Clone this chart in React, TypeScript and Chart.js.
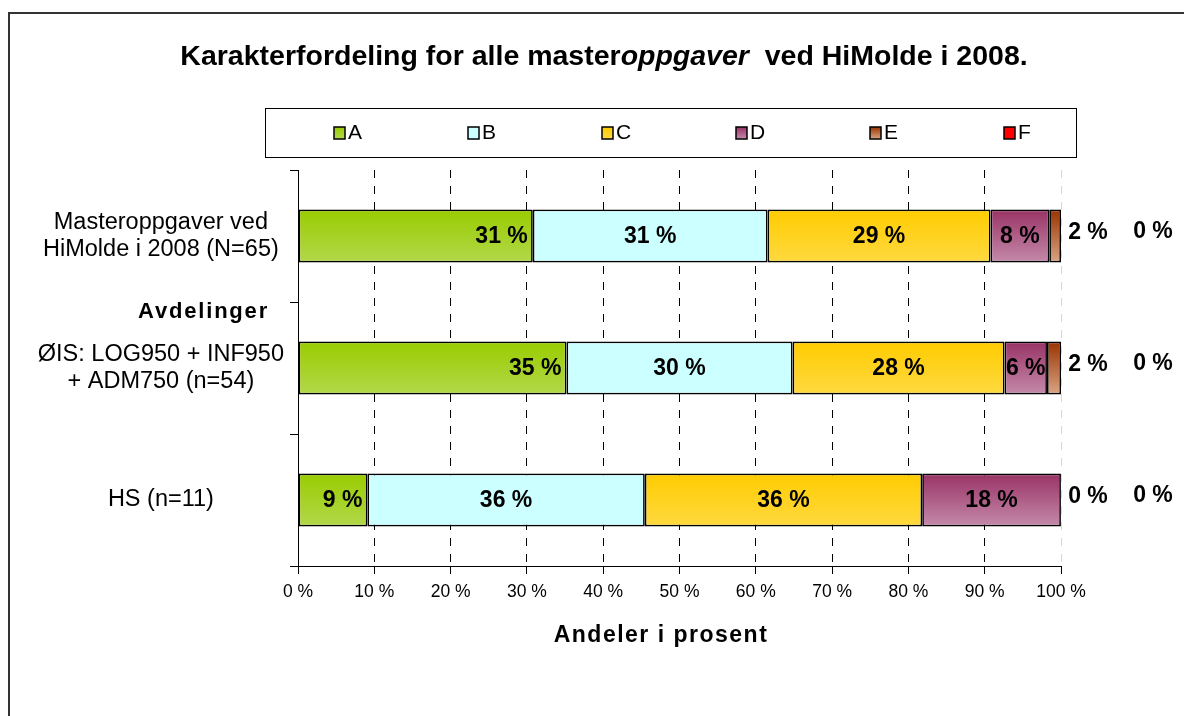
import { useEffect, useRef } from "react";
import { Chart, registerables } from "chart.js";
Chart.register(...registerables);

const categories: string[][] = [
  ["Masteroppgaver ved", "HiMolde i 2008 (N=65)"],
  ["ØIS: LOG950 + INF950", "+ ADM750 (n=54)"],
  ["HS (n=11)"],
];
const sectionLabel = "Avdelinger";
const grades = ["A", "B", "C", "D", "E", "F"];
const valuesA = [30.77, 35.19, 9.09];
const valuesB = [30.77, 29.63, 36.36];
const valuesC = [29.23, 27.78, 36.36];
const valuesD = [7.69, 5.56, 18.18];
const valuesE = [1.54, 1.85, 0];
const valuesF = [0, 0, 0];
const seriesValues = [valuesA, valuesB, valuesC, valuesD, valuesE, valuesF];
const xTickValues = [0, 10, 20, 30, 40, 50, 60, 70, 80, 90, 100];
const titleParts = [
  { text: "Karakterfordeling for alle master", italic: false },
  { text: "oppgaver", italic: true },
  { text: "  ved HiMolde i 2008.", italic: false },
];
const xAxisTitle = "Andeler i prosent";

const gradeColors: string[][] = [
  ["#99cc00", "#b2d84a"],
  ["#ccffff", "#ccffff"],
  ["#ffcc00", "#ffd940"],
  ["#993366", "#c48aaa"],
  ["#993300", "#d9a584"],
  ["#ff0000", "#ff0000"],
];

const FONT = '"Liberation Sans", Arial, sans-serif';

function makeGrad(ctx: CanvasRenderingContext2D, top: number, bottom: number, c: string[]) {
  const g = ctx.createLinearGradient(0, top, 0, bottom);
  g.addColorStop(0, c[0]);
  g.addColorStop(1, c[1]);
  return g;
}

const gradientPlugin = {
  id: "gradients",
  beforeDatasetsDraw(chart: any) {
    const ctx = chart.ctx;
    chart.data.datasets.forEach((_: any, i: number) => {
      const meta = chart.getDatasetMeta(i);
      meta.data.forEach((el: any) => {
        const p = el.getProps(["y", "height"], true);
        el.options.backgroundColor = makeGrad(ctx, p.y - p.height / 2, p.y + p.height / 2, gradeColors[i]);
      });
    });
  },
};

const labelsPlugin = {
  id: "valueLabels",
  afterDatasetsDraw(chart: any) {
    const ctx = chart.ctx;
    const x100 = chart.scales.x.getPixelForValue(100);
    ctx.save();
    ctx.font = `bold 23px ${FONT}`;
    ctx.fillStyle = "#000";
    ctx.textBaseline = "middle";
    chart.data.datasets.forEach((ds: any, i: number) => {
      const meta = chart.getDatasetMeta(i);
      meta.data.forEach((el: any, j: number) => {
        const v = ds.data[j];
        const txt = Math.round(v) + " %";
        const p = el.getProps(["x", "y", "base"], true);
        if (i === 0) {
          ctx.textAlign = "right";
          ctx.fillText(txt, p.x - 5, p.y + 1);
        } else if (i <= 3) {
          ctx.textAlign = "center";
          ctx.fillText(txt, (p.x + p.base) / 2, p.y + 1);
        } else if (i === 4) {
          ctx.textAlign = "center";
          ctx.fillText(txt, x100 + 27, p.y - 3);
        } else {
          ctx.textAlign = "center";
          ctx.fillText(txt, x100 + 92, p.y - 4);
        }
      });
    });
    ctx.restore();
  },
};

const decorPlugin = {
  id: "decor",
  afterDraw(chart: any) {
    const ctx = chart.ctx;
    ctx.save();
    // outer frame
    ctx.strokeStyle = "#333";
    ctx.lineWidth = 2;
    ctx.beginPath();
    ctx.moveTo(9, 716);
    ctx.lineTo(9, 13);
    ctx.lineTo(1184, 13);
    ctx.stroke();
    // solid x axis line (grid lines are dashed)
    const ca = chart.chartArea;
    ctx.strokeStyle = "#000";
    ctx.lineWidth = 1;
    ctx.beginPath();
    ctx.moveTo(ca.left, Math.round(ca.bottom) + 0.5);
    ctx.lineTo(ca.right, Math.round(ca.bottom) + 0.5);
    ctx.stroke();
    // title
    ctx.fillStyle = "#000";
    ctx.textBaseline = "alphabetic";
    ctx.textAlign = "left";
    let total = 0;
    const widths = titleParts.map((p) => {
      ctx.font = `${p.italic ? "italic " : ""}bold 28.5px ${FONT}`;
      const w = ctx.measureText(p.text).width;
      total += w;
      return w;
    });
    let x = 604 - total / 2;
    titleParts.forEach((p, k) => {
      ctx.font = `${p.italic ? "italic " : ""}bold 28.5px ${FONT}`;
      ctx.fillText(p.text, x, 65);
      x += widths[k];
    });
    // legend box
    ctx.strokeStyle = "#000";
    ctx.lineWidth = 1;
    ctx.strokeRect(265.5, 108.5, 811, 49);
    grades.forEach((g, i) => {
      const bx = 334 + i * 134;
      const by = 127;
      ctx.fillStyle = makeGrad(ctx, by, by + 12, gradeColors[i]);
      ctx.fillRect(bx, by, 11, 12);
      ctx.lineWidth = 1.5;
      ctx.strokeStyle = "#000";
      ctx.strokeRect(bx, by, 11, 12);
      ctx.fillStyle = "#000";
      ctx.font = `21px ${FONT}`;
      ctx.textBaseline = "middle";
      ctx.fillText(g, bx + 14, by + 6);
    });
    // x axis title
    ctx.font = `bold 23px ${FONT}`;
    (ctx as any).letterSpacing = "1.5px";
    ctx.textAlign = "center";
    ctx.textBaseline = "middle";
    ctx.fillText(xAxisTitle, 661, 636);
    // section label
    const ys = chart.scales.y;
    const yb = (ys.getPixelForValue(0) + ys.getPixelForValue(1)) / 2;
    ctx.font = `bold 22px ${FONT}`;
    (ctx as any).letterSpacing = "1.8px";
    ctx.textAlign = "right";
    ctx.textBaseline = "middle";
    ctx.fillText(sectionLabel, 269, yb + 10);
    ctx.restore();
  },
};

export default function App() {
  const ref = useRef<HTMLCanvasElement>(null);
  useEffect(() => {
    document.body.style.margin = "0";
    const chart = new Chart(ref.current!, {
      type: "bar",
      data: {
        labels: categories as any,
        datasets: grades.map((g, i) => ({
          label: g,
          data: seriesValues[i],
          backgroundColor: () => gradeColors[i][0],
          borderColor: "#000",
          borderWidth: (c: any) => (c.raw === 0 ? 0 : 1.7),
          borderSkipped: false,
          barPercentage: 0.4,
          categoryPercentage: 1,
        })),
      },
      options: {
        indexAxis: "y",
        animation: false,
        responsive: false,
        devicePixelRatio: 1,
        layout: { padding: { top: 170, right: 123, left: 0, bottom: 0 } },
        plugins: { legend: { display: false }, tooltip: { enabled: false }, title: { display: false } },
        scales: {
          x: {
            stacked: true,
            min: 0,
            max: 100,
            afterFit: (s: any) => { s.height = 150; },
            afterBuildTicks: (s: any) => { s.ticks = xTickValues.map((v) => ({ value: v })); },
            ticks: {
              color: "#000",
              font: { family: FONT, size: 17.5 },
              padding: 8,
              callback: (v: any) => v + " %",
              maxRotation: 0,
            },
            grid: {
              color: (c: any) => (c.tick && c.tick.value === 100 ? "#d8d8d8" : "#000"),
              tickColor: "#000",
              tickLength: 8,
              tickBorderDash: [],
              lineWidth: 1,
            } as any,
            border: { color: "#000", width: 1, dash: [8, 8] },
            title: { display: false },
          },
          y: {
            stacked: true,
            afterFit: (s: any) => { s.width = 298; },
            ticks: {
              color: "#000",
              font: { family: FONT, size: 23.5, lineHeight: 1.16 },
              crossAlign: "center",
              padding: 6,
            },
            grid: { drawOnChartArea: false, tickLength: 8, color: "#000", offset: true },
            border: { color: "#000", width: 1 },
          },
        },
      } as any,
      plugins: [gradientPlugin, labelsPlugin, decorPlugin],
    });
    return () => chart.destroy();
  }, []);
  return <canvas ref={ref} width={1184} height={716} style={{ display: "block" }} />;
}
